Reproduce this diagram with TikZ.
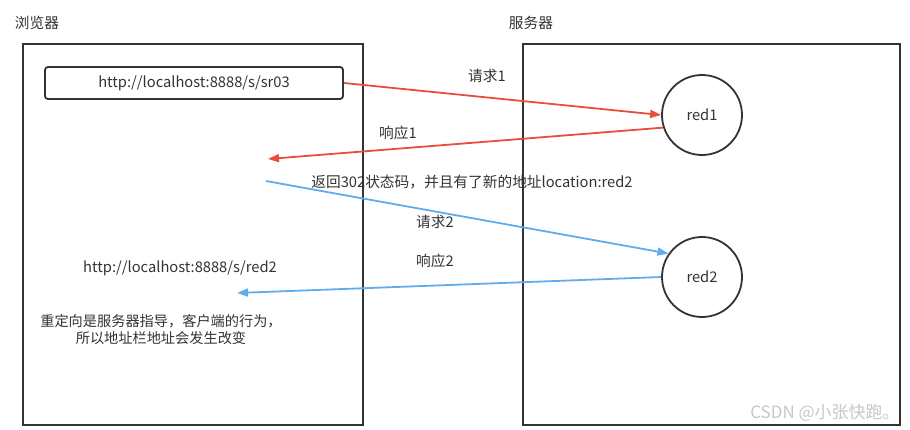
\documentclass[tikz,border=0pt]{standalone}
\usepackage{fontspec}
\setmainfont{Noto Sans CJK SC}
\usepackage{xcolor}
\usetikzlibrary{arrows.meta,positioning}
\definecolor{reqred}{RGB}{234,76,61}
\definecolor{respblue}{RGB}{96,172,236}
\definecolor{txtgray}{RGB}{51,51,51}

\begin{document}
\begin{tikzpicture}[x=1pt,y=-1pt,font=\fontsize{14.7}{17}\selectfont,text=txtgray,
  frame/.style={draw=txtgray,line width=2pt},
  page/.style={draw=txtgray,line width=1.8pt,rounded corners=3pt,minimum width=298pt,minimum height=32pt,inner sep=0pt},
  servlet/.style={circle,draw=txtgray,line width=1.8pt,minimum size=80pt,inner sep=0pt},
  redarr/.style={draw=reqred,line width=1.8pt,-{Triangle[length=11pt,width=8pt]}},
  bluearr/.style={draw=respblue,line width=1.8pt,-{Triangle[length=11pt,width=8pt]}}]
  \useasboundingbox (0,0) rectangle (910,429);
  % two sides
  \node (browserlbl) at (37,23) {浏览器};
  \node (serverlbl) at (531,23) {服务器};
  \draw[frame] (23,44) rectangle (363,425);
  \draw[frame] (523,44) rectangle (900,425);
  \node[page] (url) at (194,83) {http://localhost:8888/s/sr03};
  \node[servlet] (red1) at (702,115) {red1};
  \node[servlet] (red2) at (702,277) {red2};
  \coordinate (resp1end) at (268,159);
  \coordinate (req2start) at (266,181);
  \coordinate (resp2end) at (237,293);
  % arrows
  \draw[redarr] (url.east) -- (red1.west);
  \draw[redarr] (red1.198) -- (resp1end);
  \draw[bluearr] (req2start) -- (red2.145);
  \draw[bluearr] (red2.west) -- (resp2end);
  \node (req1lbl) at (487,76) {请求1};
  \node (resp1lbl) at (398,133) {响应1};
  \node (codelbl) at (472,182) {返回302状态码，并且有了新的地址location:red2};
  \node (req2lbl) at (435,222) {请求2};
  \node (resp2lbl) at (435,261) {响应2};
  \node (newurl) at (180,268) {http://localhost:8888/s/red2};
  \node[align=center,font=\fontsize{14.2}{17}\selectfont] (note) at (161,330) {重定向是服务器指导，客户端的行为，\\所以地址栏地址会发生改变};
  \node[text=black!22,font=\fontsize{17}{20}\selectfont] (mark) at (825,413) {CSDN @小张快跑。};
\end{tikzpicture}
\end{document}
